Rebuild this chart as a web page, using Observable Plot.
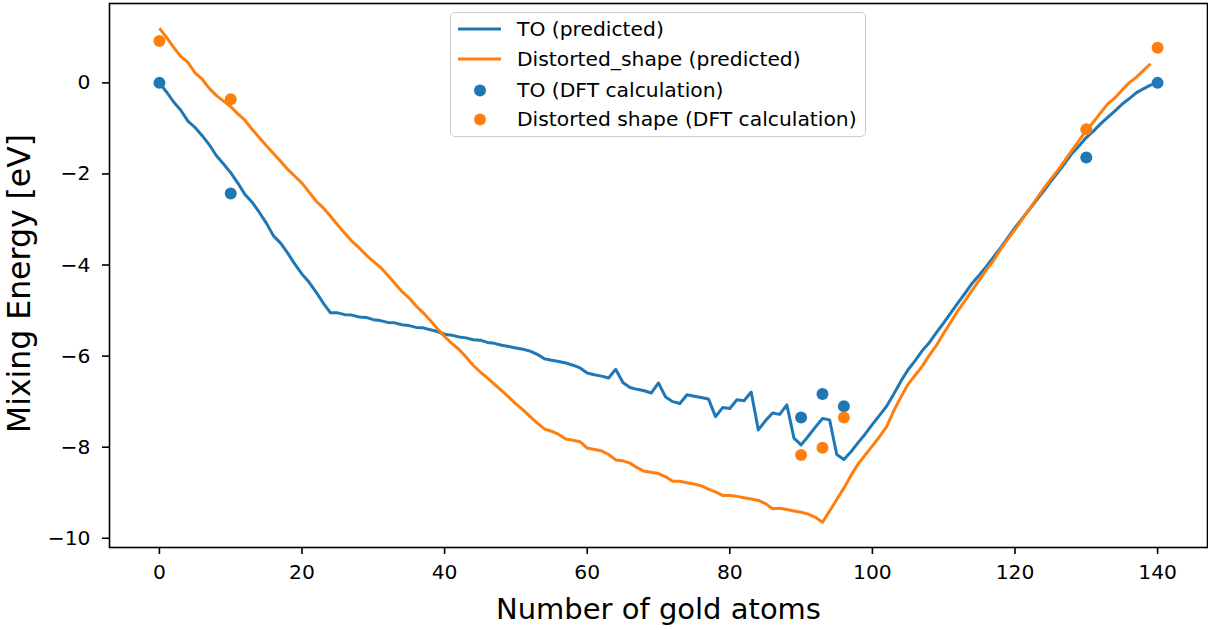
<!DOCTYPE html>
<html>
<head>
<meta charset="utf-8">
<script src="https://cdn.jsdelivr.net/npm/d3@7"></script>
<script src="https://cdn.jsdelivr.net/npm/@observablehq/plot@0.6"></script>
<style>
  html, body { margin: 0; padding: 0; background: #fff; }
  #wrap { position: relative; width: 1208px; height: 630px; font-family: "DejaVu Sans", sans-serif; }
  #legend { position: absolute; left: 450px; top: 12px; width: 414px; height: 123px;
    border: 1.6px solid #cccccc; border-radius: 5px; background: rgba(255,255,255,0.8); box-sizing: content-box; }
  .row { position: absolute; left: 0; height: 30px; }
  .row span { position: absolute; left: 66px; top: 0; font-size: 20.3px; white-space: nowrap; color: #000; line-height: 30px; }
  .row svg { position: absolute; left: 6px; top: 0; }
</style>
</head>
<body>
<div id="wrap"></div>
<script>
// ---- data ----
const xTicks = [0, 20, 40, 60, 80, 100, 120, 140];
const yTicks = [0, -2, -4, -6, -8, -10];

// TO (predicted), one value per number of gold atoms 0..140
const toPredicted = [
  0, -0.2, -0.42, -0.6, -0.84, -0.98, -1.16, -1.36, -1.6, -1.78,
  -1.97, -2.2, -2.45, -2.62, -2.84, -3.08, -3.36, -3.52, -3.74, -3.98,
  -4.2, -4.38, -4.6, -4.84, -5.05, -5.05, -5.09, -5.1, -5.14, -5.15,
  -5.2, -5.22, -5.26, -5.27, -5.31, -5.33, -5.37, -5.38, -5.42, -5.46,
  -5.52, -5.54, -5.58, -5.6, -5.64, -5.65, -5.7, -5.72, -5.76, -5.79,
  -5.82, -5.85, -5.89, -5.96, -6.06, -6.09, -6.12, -6.15, -6.2, -6.26,
  -6.37, -6.41, -6.44, -6.48, -6.29, -6.58, -6.69, -6.73, -6.76, -6.81,
  -6.59, -6.9, -7.0, -7.04, -6.85, -6.88, -6.91, -6.94, -7.33, -7.13,
  -7.15, -6.96, -6.98, -6.79, -7.62, -7.42, -7.25, -7.28, -7.07, -7.8,
  -7.95, -7.76, -7.56, -7.37, -7.4, -8.16, -8.27, -8.1, -7.9, -7.71,
  -7.5, -7.3, -7.1, -6.83, -6.55, -6.3, -6.1, -5.88, -5.7, -5.48,
  -5.27, -5.05, -4.83, -4.62, -4.4, -4.22, -4.03, -3.82, -3.62, -3.4,
  -3.18, -2.98, -2.78, -2.58, -2.38, -2.17, -1.97, -1.76, -1.55, -1.38,
  -1.2, -1.06, -0.9, -0.76, -0.62, -0.47, -0.35, -0.22, -0.13, -0.05,
  0.0
];

// Distorted_shape (predicted), one value per number of gold atoms 0..139
const distortedPredicted = [
  1.2, 1.0, 0.78, 0.58, 0.45, 0.22, 0.08, -0.12, -0.28, -0.4,
  -0.52, -0.68, -0.82, -1.02, -1.2, -1.38, -1.55, -1.72, -1.9, -2.05,
  -2.2, -2.4, -2.6, -2.75, -2.93, -3.12, -3.3, -3.48, -3.62, -3.78,
  -3.92, -4.05, -4.22, -4.4, -4.58, -4.72, -4.9, -5.05, -5.22, -5.4,
  -5.57, -5.72, -5.85, -6.02, -6.2, -6.35, -6.48, -6.62, -6.76, -6.9,
  -7.05, -7.18, -7.33, -7.47, -7.6, -7.65, -7.72, -7.82, -7.85, -7.88,
  -8.02, -8.05, -8.08, -8.16, -8.28, -8.3, -8.35, -8.45, -8.53, -8.55,
  -8.58, -8.65, -8.75, -8.75, -8.78, -8.81, -8.85, -8.92, -8.98, -9.06,
  -9.06, -9.08, -9.11, -9.14, -9.17, -9.24, -9.35, -9.34, -9.37, -9.4,
  -9.43, -9.47, -9.54, -9.65, -9.4, -9.15, -8.9, -8.62, -8.37, -8.17,
  -7.97, -7.77, -7.55, -7.2, -6.9, -6.62, -6.42, -6.22, -5.98, -5.76,
  -5.5, -5.25, -5.0, -4.78, -4.55, -4.33, -4.1, -3.9, -3.65, -3.43,
  -3.22, -3.0, -2.78, -2.55, -2.33, -2.12, -1.92, -1.7, -1.48, -1.26,
  -1.05, -0.86, -0.66, -0.46, -0.33, -0.16, 0.0, 0.12, 0.27, 0.42
];

// DFT calculations
const dftAtoms = [0, 10, 90, 93, 96, 130, 140];
const toDFT = [0, -2.43, -7.35, -6.83, -7.1, -1.64, 0];
const distortedDFT = [0.92, -0.36, -8.17, -8.01, -7.35, -1.02, 0.77];

const seriesNames = ["TO (predicted)", "Distorted_shape (predicted)", "TO (DFT calculation)", "Distorted shape (DFT calculation)"];
const colors = ["#1f77b4", "#ff7f0e"];

// ---- build tables ----
const toLine = toPredicted.map((v, i) => ({x: i, y: v}));
const dsLine = distortedPredicted.map((v, i) => ({x: i, y: v}));
const toPts = dftAtoms.map((a, i) => ({x: a, y: toDFT[i]}));
const dsPts = dftAtoms.map((a, i) => ({x: a, y: distortedDFT[i]}));

const fmt = d3.format("d");

const chart = Plot.plot({
  width: 1208,
  height: 630,
  marginLeft: 109,
  marginRight: 1,
  marginTop: 3,
  marginBottom: 83,
  style: {fontFamily: "DejaVu Sans, sans-serif", fontSize: "20px", color: "#000", background: "transparent"},
  x: {domain: [-7, 147]},
  y: {domain: [-10.203, 1.743]},
  marks: [
    Plot.line(toLine, {x: "x", y: "y", stroke: colors[0], strokeWidth: 3, strokeLinejoin: "round", strokeLinecap: "butt"}),
    Plot.line(dsLine, {x: "x", y: "y", stroke: colors[1], strokeWidth: 3, strokeLinejoin: "round", strokeLinecap: "butt"}),
    Plot.dot(toPts, {x: "x", y: "y", r: 6, fill: colors[0], stroke: "none"}),
    Plot.dot(dsPts, {x: "x", y: "y", r: 6, fill: colors[1], stroke: "none"}),
    Plot.frame({stroke: "#000", strokeWidth: 1.6}),
    Plot.axisX({ticks: xTicks, tickFormat: fmt, tickSize: 7, tickPadding: 10, strokeWidth: 1.6, fontSize: 20.3, label: null}),
    Plot.axisY({ticks: yTicks, tickFormat: fmt, tickSize: 7, tickPadding: 12, strokeWidth: 1.6, fontSize: 20.3, label: null}),
    Plot.text(["Number of gold atoms"], {frameAnchor: "bottom", dy: 71, fontSize: 29, fill: "#000"}),
    Plot.text(["Mixing Energy [eV]"], {frameAnchor: "left", dx: -90, dy: 8, rotate: -90, textAnchor: "middle", fontSize: 31.5, fill: "#000"})
  ]
});

const wrap = document.getElementById("wrap");
wrap.appendChild(chart);

// ---- legend ----
const legend = document.createElement("div");
legend.id = "legend";
const rowTops = [1, 31, 62, 91];
seriesNames.forEach((name, i) => {
  const row = document.createElement("div");
  row.className = "row";
  row.style.top = rowTops[i] + "px";
  row.style.width = "414px";
  const c = colors[i % 2];
  const glyph = i < 2
    ? `<svg width="46" height="30"><line x1="1" y1="15" x2="44" y2="15" stroke="${c}" stroke-width="3"/></svg>`
    : `<svg width="46" height="30"><circle cx="23" cy="15.5" r="6" fill="${c}"/></svg>`;
  row.innerHTML = glyph + `<span>${name}</span>`;
  legend.appendChild(row);
});
wrap.appendChild(legend);
</script>
</body>
</html>
